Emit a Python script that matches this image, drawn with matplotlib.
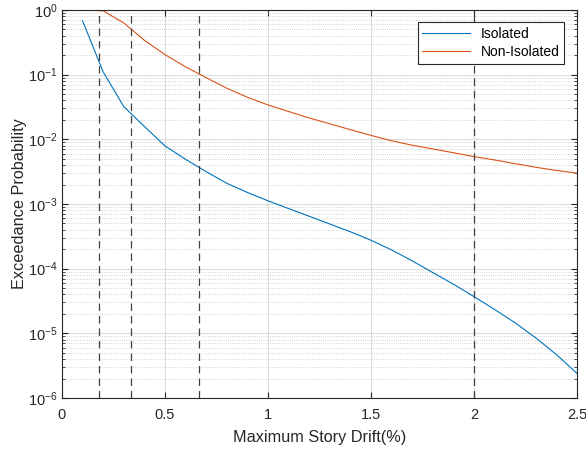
import numpy as np
import matplotlib
matplotlib.use("Agg")
from matplotlib import pyplot as plt
from matplotlib.ticker import LogLocator, NullFormatter

plt.rcParams['font.family'] = ['Liberation Sans', 'DejaVu Sans']

# drift levels (%)
drift = [0.1, 0.2, 0.3, 0.4, 0.5, 0.6, 0.7, 0.8, 0.9, 1.0,
         1.1, 1.2, 1.3, 1.4, 1.5, 1.6, 1.7, 1.8, 1.9, 2.0,
         2.1, 2.2, 2.3, 2.4, 2.5]

isolated = [0.68, 0.11, 0.032, 0.0158, 0.0079, 0.0049, 0.00316, 0.00209, 0.00151, 0.00112,
            0.00085, 0.000646, 0.00049, 0.000372, 0.000275, 0.000195, 0.000132, 0.000087, 0.0000575, 0.000037,
            0.0000234, 0.0000145, 0.0000085, 0.0000047, 0.0000024]

non_isolated = [1.0, 0.97, 0.63, 0.34, 0.204, 0.132, 0.0897, 0.0617, 0.0447, 0.034,
                0.0269, 0.0214, 0.0174, 0.0141, 0.0115, 0.0095, 0.0081, 0.0071, 0.0062, 0.0054,
                0.0048, 0.0042, 0.0037, 0.0033, 0.003]

# limit state drifts
limits = [0.18, 0.333, 0.667, 2.0]

x_ticks = [0, 0.5, 1, 1.5, 2, 2.5]
x_ticklabels = ['0', '0.5', '1', '1.5', '2', '2.5']
y_ticks = [1e-6, 1e-5, 1e-4, 1e-3, 1e-2, 1e-1, 1]

fig = plt.figure(figsize=(5.86, 4.5), dpi=100)
ax = fig.add_axes([0.1058, 0.1156, 0.8788, 0.8622])

ax.semilogy(drift, isolated, color='#0072BD', lw=0.8, label='Isolated')
ax.semilogy(drift, non_isolated, color='#D95319', lw=0.8, label='Non-Isolated')

for xv in limits:
    ax.axvline(xv, color='#404040', ls=(0, (6, 4)), lw=0.9)

ax.set_xlim(0, 2.5)
ax.set_xticks(x_ticks)
ax.set_xticklabels(x_ticklabels)
ax.set_yticks(y_ticks)
ax.yaxis.set_minor_locator(LogLocator(base=10, subs=np.arange(2, 10), numticks=20))
ax.yaxis.set_minor_formatter(NullFormatter())
ax.set_ylim(1e-6, 1)

ax.grid(True, which='major', color='#dcdcdc', lw=0.8)
ax.grid(True, which='minor', axis='y', color='#c8c8c8', ls=':', lw=0.6)
ax.set_axisbelow(True)

ax.tick_params(which='both', direction='in', top=True, right=True,
               colors='#262626', labelsize=10.5)
ax.tick_params(which='major', length=4)
ax.tick_params(which='minor', length=2)
ax.tick_params(axis='x', pad=7)
ax.tick_params(axis='y', pad=3)
for s in ax.spines.values():
    s.set_color('#262626')
    s.set_linewidth(0.8)

ax.set_xlabel('Maximum Story Drift(%)', fontsize=11.7, color='#262626', labelpad=6)
ax.set_ylabel('Exceedance Probability', fontsize=11.7, color='#262626', labelpad=1)

leg = ax.legend(loc='upper right', fontsize=10, fancybox=False, framealpha=1,
                edgecolor='#262626', borderaxespad=0.9, handlelength=3.4,
                borderpad=0.35, labelspacing=0.25)
leg.get_frame().set_linewidth(0.8)

fig.savefig('out.png', dpi=100)
